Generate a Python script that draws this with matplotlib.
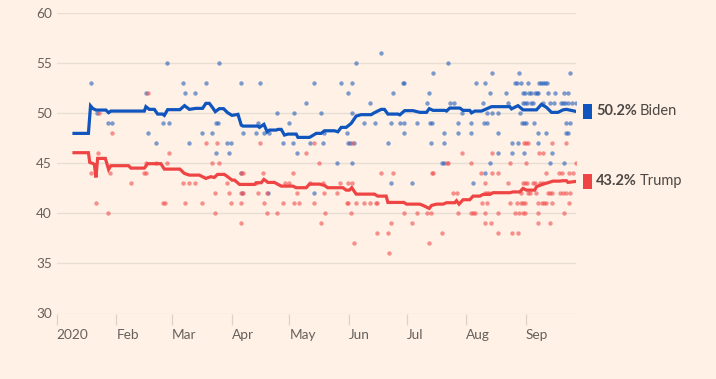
import numpy as np
import matplotlib
matplotlib.use("Agg")
import matplotlib.pyplot as plt
import matplotlib.transforms as mtransforms
from matplotlib.patches import Rectangle

plt.rcParams['font.family'] = ['Lato', 'DejaVu Sans']

# ---------------- data (days after 1 Jan 2020, poll share %) ----------------
biden_avg_day = [9, 16.5, 17.6, 18.7, 20.4, 25.6, 27.0, 28.2, 45.6, 46.4, 48.2, 50.8, 52.5, 55.1,
                 56.0, 57.7, 64.1, 66.5, 69.0, 72.4, 75.9, 77.6, 79.4, 81.1, 82.5, 84.6, 86.8,
                 88.9, 91.2, 94.3, 96.0, 96.9, 104.7, 105.5, 107.8, 109.5, 110.7, 114.2, 115.1,
                 116.8, 118.5, 120.3, 124.6, 125.5, 131.5, 133.3, 135.0, 137.6, 139.3, 144.5,
                 146.3, 148.0, 150.6, 153.2, 155.8, 158.4, 163.6, 165.3, 168.8, 170.5, 172.3,
                 177.5, 178.5, 181.0, 185.4, 188.9, 192.4, 193.8, 195.8, 201.9, 202.8, 204.5,
                 209.7, 211.4, 214.9, 215.8, 217.5, 221.0, 223.6, 226.2, 235.7, 236.6, 240.0,
                 242.6, 249.6, 252.2, 254.8, 257.4, 260.8, 263.4, 265.2, 270.0]
biden_avg = [48.0, 48.0, 50.75, 50.5, 50.33, 50.33, 50.07, 50.23, 50.23, 50.67, 50.4, 50.4, 49.93,
             49.93, 49.8, 50.37, 50.37, 50.77, 50.4, 50.5, 50.5, 51.0, 51.0, 50.57, 50.17, 50.47,
             50.47, 50.07, 49.8, 49.9, 48.83, 48.73, 48.73, 48.6, 48.9, 48.16, 48.33, 48.33,
             48.4, 48.4, 47.83, 47.93, 47.93, 47.6, 47.6, 47.8, 48.0, 48.0, 48.26, 48.26, 48.16,
             48.6, 48.6, 49.0, 49.73, 49.87, 49.87, 50.07, 50.4, 50.4, 49.93, 49.93, 49.85,
             50.27, 50.27, 50.1, 50.1, 50.47, 50.3, 50.3, 50.23, 50.53, 50.53, 50.3, 50.3, 50.05,
             50.23, 50.23, 50.45, 50.67, 50.67, 50.45, 50.77, 50.35, 50.35, 50.9, 50.6, 50.1,
             50.1, 50.35, 50.4, 50.2]

trump_avg_day = [9, 16.5, 17.2, 18.7, 19.6, 20.4, 21.3, 25.3, 27.0, 28.2, 37.4, 38.6, 45.6, 47.3,
                 54.2, 56.0, 64.1, 66.4, 69.0, 74.2, 77.6, 80.2, 82.0, 83.7, 87.2, 88.9, 91.2,
                 92.5, 95.1, 102.9, 103.8, 106.4, 107.8, 109.9, 113.3, 116.8, 122.9, 124.6, 129.8,
                 131.5, 136.7, 139.3, 141.0, 148.9, 150.6, 152.3, 153.5, 155.8, 165.3, 167.0,
                 171.4, 172.3, 180.6, 182.0, 188.9, 190.6, 193.8, 195.0, 197.6, 201.0, 202.8,
                 207.1, 208.0, 209.3, 211.4, 214.9, 216.6, 220.1, 221.8, 225.3, 227.0, 235.7,
                 237.4, 240.9, 242.6, 244.4, 248.7, 249.6, 253.0, 255.6, 258.2, 261.7, 263.4,
                 265.2, 266.0, 270.0]
trump_avg = [46.07, 46.07, 45.1, 45.0, 44.9, 43.6, 45.5, 45.5, 44.4, 44.77, 44.77, 44.53, 44.53,
             44.97, 44.97, 44.43, 44.43, 44.0, 43.83, 43.83, 43.5, 43.67, 43.6, 43.9, 43.9, 43.67,
             43.33, 43.33, 42.9, 42.9, 43.07, 43.07, 43.4, 43.1, 43.1, 42.73, 42.73, 42.57, 42.57,
             42.93, 42.93, 42.8, 42.57, 42.57, 42.33, 42.33, 42.57, 41.93, 41.93, 41.73, 41.73,
             41.1, 41.1, 40.93, 40.93, 40.8, 40.5, 40.8, 40.93, 40.93, 41.07, 41.07, 41.27,
             40.93, 41.37, 41.37, 41.73, 41.73, 41.9, 41.9, 42.07, 42.07, 42.15, 42.15, 42.5,
             42.33, 42.33, 42.67, 42.93, 43.07, 43.23, 43.23, 43.27, 43.27, 43.1, 43.2]

biden_poll_day = [17.7, 46.4, 20.8, 26.5, 28.6, 47.5, 51.6, 57.5, 65.5, 66.5, 71.7, 55.4, 58.6,
                  68.6, 75.5, 77.6, 84.6, 80.7, 82.8, 83.9, 88.4, 90.5, 82.8, 89.4,
                  95.7, 105.7, 133.8, 147.7, 153.5, 155.6, 168.8, 151.8, 174.7, 129.6, 162.9,
                  114.7, 123.7, 137.6, 153.5, 104.7, 120.6, 159.8, 165.7, 173.7, 96.7, 103.6,
                  107.8, 110.6, 139.3, 150.8, 117.9, 122.7, 131.7, 138.7, 151.5, 152.5, 154.6,
                  172.6, 124.8, 145.6, 153.5, 95.7, 173.7, 109.9, 133.8, 96.2,
                  203.8, 195.8, 226.7, 240.5, 266.9, 179.9, 180.9, 218.0, 222.9, 238.5, 239.5,
                  241.6, 245.0, 251.0, 252.0, 253.0, 254.1, 255.1, 193.8, 225.6, 233.6, 242.6,
                  243.7, 245.7, 246.8, 248.9, 249.9, 250.6, 255.8, 259.3, 263.8, 265.8, 192.7,
                  204.5, 206.6, 221.8, 234.7, 242.6, 243.7, 244.7, 246.8, 247.8, 253.0, 256.8,
                  258.9, 262.4, 263.4, 264.5, 265.8, 267.9, 270.0, 210.7, 223.9, 226.7, 229.8,
                  240.9, 178.5, 180.6, 187.5, 194.4, 195.5, 208.7, 215.6, 222.5, 223.6, 241.9,
                  243.0, 244.0, 248.5, 264.8, 266.9, 180.6, 201.7, 209.0, 215.6, 229.8, 250.6,
                  254.8, 264.8, 265.8, 194.8, 201.7, 236.7, 239.8, 250.6, 229.8, 236.7, 243.0,
                  257.9, 200.7, 201.7, 225.6, 256.8, 263.8, 222.9, 184.7, 216.6]
biden_poll = [53, 52, 50, 49, 49, 48, 47, 55, 53, 52, 52, 49, 49,
              47, 48, 53, 55, 48, 49, 49, 47, 47, 46, 46,
              53, 53, 53, 53, 53, 55, 56, 52, 52, 51, 51,
              50, 50, 50, 50, 49, 49, 49, 49, 49, 48, 48,
              48, 48, 48, 48, 47, 47, 47, 47, 47, 47, 47,
              47, 46, 45, 45, 44, 43, 42, 42, 42,
              55, 54, 54, 54, 54, 53, 53, 53, 53, 53, 53,
              53, 53, 53, 53, 53, 53, 53, 52, 52, 52, 52,
              52, 52, 52, 52, 52, 52, 52, 52, 52, 52, 51,
              51, 51, 51, 51, 51, 51, 51, 51, 51, 51, 51,
              51, 51, 51, 51, 51, 51, 51, 50, 50, 50, 50,
              50, 49, 49, 49, 49, 49, 49, 49, 49, 49, 49,
              49, 49, 49, 49, 49, 48, 48, 48, 48, 48, 48,
              48, 48, 48, 47, 47, 47, 47, 47, 46, 46, 46,
              46, 45, 45, 45, 45, 45, 44, 43, 43]

trump_poll_day = [17.7, 21.5, 20.4, 26.5, 28.6, 27.7, 38.6, 45.4, 46.4, 46.4, 51.6, 55.4, 56.5,
                  57.5, 58.6, 65.5, 68.6, 71.7, 66.5, 75.5, 77.6, 80.7, 83.5, 84.6, 82.5, 82.5,
                  88.4, 89.4, 90.5, 47.5, 21.8,
                  105.7, 129.6, 133.8, 153.5, 136.6, 95.7, 96.7, 107.5, 122.7, 168.5, 174.7,
                  103.6, 118.9, 120.6, 132.0, 138.6, 147.3, 151.5, 153.5, 95.7, 96.7, 104.7,
                  109.5, 124.8, 139.0, 145.6, 95.7, 107.8, 117.5, 123.4, 125.8, 133.8, 150.8,
                  151.8, 155.6, 159.8, 162.9, 166.0, 166.7, 109.5, 114.7, 139.7, 152.9, 95.7,
                  137.6, 173.7, 166.7, 172.6, 154.6, 173.0,
                  243.0, 244.0, 245.0, 257.9, 264.8, 210.7, 226.7, 251.0, 253.0, 202.8, 203.8,
                  215.6, 235.7, 244.0, 270.0, 195.1, 195.8, 220.8, 226.7, 229.8, 254.8, 261.3,
                  262.7, 266.5, 268.6, 222.9, 234.7, 242.6, 243.7, 244.7, 247.8, 248.9, 251.3,
                  253.0, 206.2, 208.3, 222.9, 223.9, 225.0, 241.6, 245.0, 246.4, 249.2, 255.5,
                  256.5, 257.5, 261.7, 263.4, 265.2, 267.2, 221.1, 223.9, 235.7, 239.5, 241.6,
                  242.6, 243.7, 250.6, 252.7, 253.7, 254.8, 257.9, 266.5, 180.6, 187.5, 192.7,
                  194.8, 208.7, 215.6, 216.6, 217.7, 222.9, 229.8, 238.5, 240.5, 242.6, 243.7,
                  250.6, 263.8, 184.7, 222.9, 226.0, 250.6, 256.8, 200.7, 229.8, 236.7, 239.8,
                  193.8]
trump_poll = [44, 46, 41, 40, 48, 44, 43, 44, 44, 45, 45, 41, 41,
              45, 46, 43, 43, 43, 41, 41, 47, 45, 47, 45, 42, 40,
              43, 42, 41, 52, 50,
              47, 46, 47, 47, 45, 44, 44, 44, 44, 44, 44,
              43, 43, 43, 43, 43, 43, 43, 43, 42, 42, 42,
              42, 42, 42, 42, 41, 41, 41, 41, 41, 41, 41,
              41, 41, 41, 41, 41, 41, 40, 40, 40, 40, 39,
              39, 39, 38, 38, 37, 36,
              47, 47, 47, 47, 47, 46, 46, 46, 46, 45, 45,
              45, 45, 45, 45, 44, 44, 44, 44, 44, 44, 44,
              44, 44, 44, 43, 43, 43, 43, 43, 43, 43, 43,
              43, 42, 42, 42, 42, 42, 42, 42, 42, 42, 42,
              42, 42, 42, 42, 42, 42, 41, 41, 41, 41, 41,
              41, 41, 41, 41, 41, 41, 41, 41, 40, 40, 40,
              40, 40, 40, 40, 40, 40, 40, 40, 40, 40, 40,
              40, 40, 39, 39, 39, 39, 39, 38, 38, 38, 38,
              37]

month_ticks = ['2020-01-01', '2020-02-01', '2020-03-01', '2020-04-01', '2020-05-01',
               '2020-06-01', '2020-07-01', '2020-08-01', '2020-09-01']
month_labels = ['2020', 'Feb', 'Mar', 'Apr', 'May', 'Jun', 'Jul', 'Aug', 'Sep']
y_ticks = [30, 35, 40, 45, 50, 55, 60]
candidates = ['Biden', 'Trump']

# ---------------- style ----------------
BG = '#fff1e5'
BLUE = '#0f55bd'
RED = '#ef4444'
BLUE_DOT = '#2a63bf'
RED_DOT = '#f25252'
GRID = '#e8ddd3'
TICK_COL = '#66605c'
TEXT_COL = '#4d4845'

base = np.datetime64('2020-01-01T00:00')


def to_dates(days):
    return base + (np.asarray(days, dtype=float) * 1440).round().astype('timedelta64[m]')


fig = plt.figure(figsize=(7.16, 3.79), dpi=100, facecolor=BG)
ax = fig.add_axes([56.7 / 716, 1 - 313.5 / 379, (575.7 - 56.7) / 716, (313.5 - 13.3) / 379])
ax.set_facecolor(BG)

ax.scatter(to_dates(biden_poll_day), biden_poll, s=10, color=BLUE_DOT, alpha=0.62,
           linewidths=0, zorder=2)
ax.scatter(to_dates(trump_poll_day), trump_poll, s=10, color=RED_DOT, alpha=0.62,
           linewidths=0, zorder=2)
ax.plot(to_dates(biden_avg_day), biden_avg, color=BLUE, lw=2.3, zorder=4,
        solid_joinstyle='miter')
ax.plot(to_dates(trump_avg_day), trump_avg, color=RED, lw=2.3, zorder=4,
        solid_joinstyle='miter')

ax.set_ylim(30, 60)
ax.set_xlim(np.datetime64('2020-01-01'), to_dates([270])[0])
ax.set_yticks(y_ticks)
ax.set_yticklabels([str(v) for v in y_ticks])
ax.set_xticks([np.datetime64(d) for d in month_ticks])
ax.set_xticklabels(month_labels, ha='left')
ax.grid(axis='y', color=GRID, lw=1.0, zorder=0)
for s in ax.spines.values():
    s.set_visible(False)
ax.tick_params(axis='y', length=0, pad=3.5, labelsize=9.8, labelcolor=TICK_COL)
ax.tick_params(axis='x', length=8, width=0.9, color='#ddd2c8', pad=3,
               labelsize=9.8, labelcolor=TICK_COL, direction='out')
for lab in ax.get_xticklabels():
    lab.set_ha('left')

# ---------------- end labels ----------------
trans = mtransforms.blended_transform_factory(ax.transAxes, ax.transData)
fig.canvas.draw()
renderer = fig.canvas.get_renderer()
for name, vals, col in [(candidates[0], biden_avg, BLUE), (candidates[1], trump_avg, RED)]:
    v = vals[-1]
    ax.add_patch(Rectangle((1.0135, v - 0.78), 0.0175, 1.56, transform=trans,
                           color=col, clip_on=False, lw=0))
    t1 = ax.text(1.0395, v, f'{v:.1f}%', transform=trans, ha='left', va='center',
                 fontsize=10.5, fontweight='bold', color=TEXT_COL, clip_on=False)
    bb = t1.get_window_extent(renderer=renderer)
    inv = ax.transAxes.inverted()
    x_end = inv.transform((bb.x1, bb.y0))[0]
    ax.text(x_end + 0.005, v, name, transform=trans, ha='left', va='center',
            fontsize=10.5, color=TEXT_COL, clip_on=False)

fig.savefig('out.png', dpi=100, facecolor=BG)
